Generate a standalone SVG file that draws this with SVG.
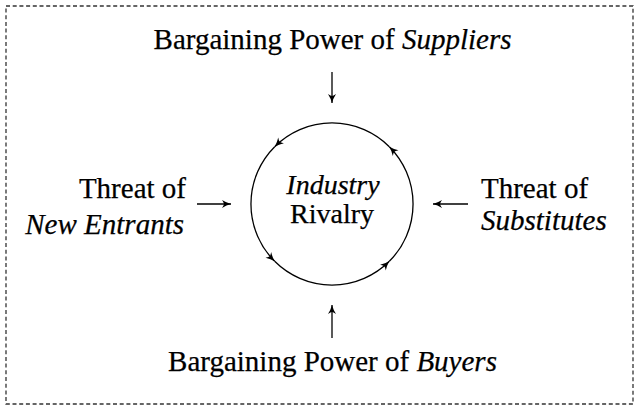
<svg xmlns="http://www.w3.org/2000/svg" width="638" height="410" viewBox="0 0 638 410" font-family="'Liberation Serif', 'DejaVu Serif', serif">
  <style>
    text { font-family: "Liberation Serif", "DejaVu Serif", serif; font-size: 29px; fill: #000; stroke: #000; stroke-width: 0.25; }
    .it { font-style: italic; }
    .mid { font-size: 28px; }
    .conn { stroke: #000; stroke-width: 1.3; fill: none; }
  </style>
  <defs>
    <marker id="ah" markerUnits="userSpaceOnUse" markerWidth="14" markerHeight="14" viewBox="-10 -7 14 14" refX="0" refY="0" orient="auto">
      <path d="M0,0 Q-4.5,-1.2 -9,-4 Q-7,-1.2 -7,0 Q-7,1.2 -9,4 Q-4.5,1.2 0,0 Z" fill="#000"/>
    </marker>
  </defs>
  <rect x="6" y="6" width="627" height="398" fill="none" stroke="#333" stroke-width="1.3" stroke-dasharray="4 2.7"/>

  <g id="rivalry">
    <path class="conn" d="M389.3,261.3 A81,81 0 0 0 389.3,146.7" marker-end="url(#ah)"/>
    <path class="conn" d="M389.3,146.7 A81,81 0 0 0 274.7,146.7" marker-end="url(#ah)"/>
    <path class="conn" d="M274.7,146.7 A81,81 0 0 0 274.7,261.3" marker-end="url(#ah)"/>
    <path class="conn" d="M274.7,261.3 A81,81 0 0 0 389.3,261.3" marker-end="url(#ah)"/>
    <text x="333" y="194" text-anchor="middle" class="it mid">Industry</text>
    <text x="332" y="222.5" text-anchor="middle" class="mid">Rivalry</text>
  </g>

  <g id="suppliers">
    <text x="332.5" y="49" text-anchor="middle">Bargaining Power of <tspan class="it">Suppliers</tspan></text>
  </g>
  <g id="buyers">
    <text x="332.5" y="371" text-anchor="middle">Bargaining Power of <tspan class="it">Buyers</tspan></text>
  </g>
  <g id="entrants">
    <text x="186" y="198" text-anchor="end">Threat of</text>
    <text x="184" y="234" text-anchor="end" class="it">New Entrants</text>
  </g>
  <g id="substitutes">
    <text x="481" y="198">Threat of</text>
    <text x="481" y="229.5" class="it">Substitutes</text>
  </g>

  <g id="connectors">
    <line class="conn" x1="332" y1="72" x2="332" y2="103" marker-end="url(#ah)"/>
    <line class="conn" x1="332" y1="338" x2="332" y2="305" marker-end="url(#ah)"/>
    <line class="conn" x1="197" y1="204" x2="231" y2="204" marker-end="url(#ah)"/>
    <line class="conn" x1="468" y1="204" x2="433" y2="204" marker-end="url(#ah)"/>
  </g>
</svg>
